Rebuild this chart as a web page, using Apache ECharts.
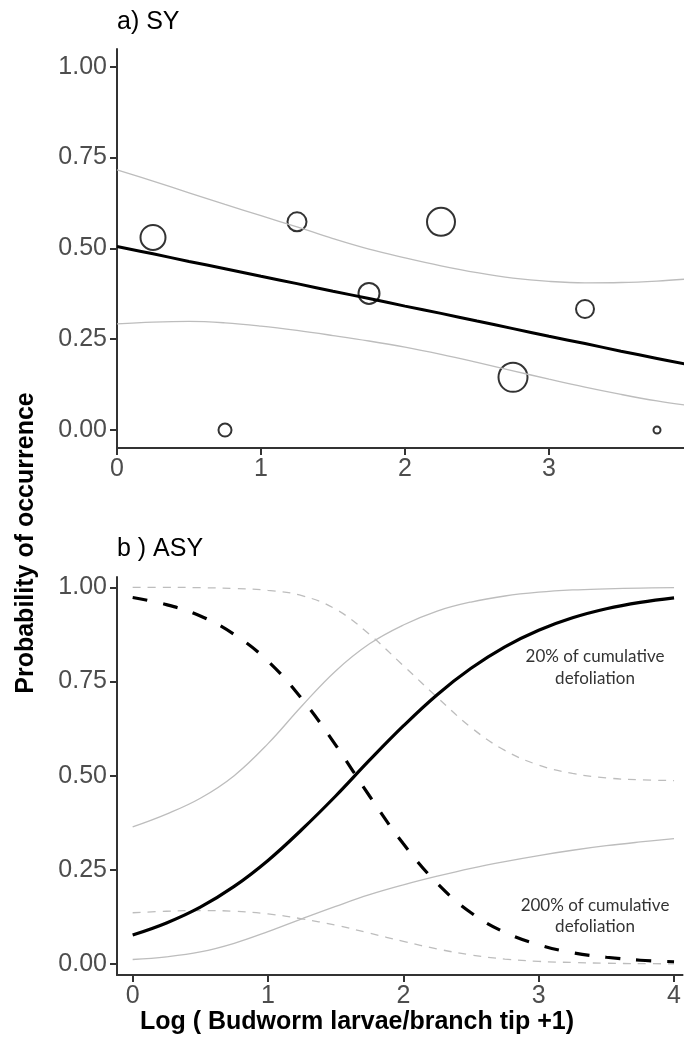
<!DOCTYPE html>
<html>
<head>
<meta charset="utf-8">
<script src="https://cdn.jsdelivr.net/npm/echarts@6/dist/echarts.min.js"></script>
<style>
  html, body { margin: 0; padding: 0; background: #fff; }
  #chart { width: 684px; height: 1040px; }
</style>
</head>
<body>
<div id="chart"></div>
<script>
// ---- panel a) SY ----
var obsX = [0.25, 0.75, 1.25, 1.75, 2.25, 2.75, 3.25, 3.75];
var obsY = [0.53, 0.0, 0.573, 0.376, 0.573, 0.145, 0.333, 0.0];
var obsSize = [25, 13, 19, 21, 28, 29, 18, 7];

var fitAX = [0, 0.25, 0.5, 0.75, 1, 1.25, 1.5, 1.75, 2, 2.25, 2.5, 2.75, 3, 3.25, 3.5, 3.75, 3.94];
var fitA = [0.505, 0.485, 0.464, 0.444, 0.423, 0.403, 0.382, 0.362, 0.341, 0.321, 0.30, 0.279, 0.258, 0.238, 0.217, 0.197, 0.182];
var fitAUpper = [0.716, 0.685, 0.653, 0.621, 0.59, 0.559, 0.527, 0.498, 0.474, 0.452, 0.433, 0.418, 0.409, 0.405, 0.406, 0.41, 0.415];
var fitALower = [0.292, 0.297, 0.299, 0.295, 0.286, 0.274, 0.26, 0.245, 0.228, 0.208, 0.186, 0.163, 0.14, 0.118, 0.098, 0.08, 0.069];

// ---- panel b) ASY ----
var fitBX = [0, 0.25, 0.5, 0.75, 1, 1.25, 1.5, 1.75, 2, 2.25, 2.5, 2.75, 3, 3.25, 3.5, 3.75, 4];
var def20 = [0.077, 0.109, 0.151, 0.206, 0.275, 0.357, 0.446, 0.541, 0.632, 0.715, 0.785, 0.842, 0.886, 0.919, 0.943, 0.960, 0.972];
var def20Upper = [0.364, 0.398, 0.44, 0.50, 0.585, 0.685, 0.778, 0.85, 0.9, 0.937, 0.961, 0.977, 0.987, 0.993, 0.996, 0.998, 0.999];
var def20Lower = [0.012, 0.019, 0.032, 0.055, 0.086, 0.12, 0.153, 0.184, 0.21, 0.233, 0.254, 0.272, 0.288, 0.302, 0.314, 0.324, 0.333];
var def200 = [0.973, 0.954, 0.924, 0.875, 0.804, 0.704, 0.581, 0.446, 0.319, 0.214, 0.136, 0.084, 0.051, 0.030, 0.018, 0.010, 0.006];
var def200Upper = [1.0, 1.0, 0.999, 0.997, 0.992, 0.978, 0.942, 0.875, 0.792, 0.708, 0.628, 0.567, 0.528, 0.506, 0.494, 0.489, 0.487];
var def200Lower = [0.136, 0.14, 0.142, 0.14, 0.133, 0.12, 0.103, 0.082, 0.06, 0.04, 0.024, 0.013, 0.007, 0.004, 0.002, 0.001, 0.0005];

var xTicksA = [0, 1, 2, 3];
var xTicksB = [0, 1, 2, 3, 4];
var yTicks = [0, 0.25, 0.5, 0.75, 1];

var FONT = '"Liberation Sans", Arial, sans-serif';

function pairs(xs, ys) {
  return xs.map(function (x, i) { return [x, ys[i]]; });
}

function xAxisCfg(grid, min, max, ticks) {
  return {
    type: 'value', gridIndex: grid, min: min, max: max,
    splitLine: { show: false },
    axisLine: { onZero: false, lineStyle: { color: '#333', width: 2 } },
    axisTick: { customValues: ticks, length: 7, lineStyle: { color: '#333', width: 2 } },
    axisLabel: { customValues: ticks, margin: 9, color: '#4d4d4d', fontSize: 25, fontFamily: FONT }
  };
}

function yAxisCfg(grid, min, max) {
  return {
    type: 'value', gridIndex: grid, min: min, max: max,
    splitLine: { show: false },
    axisLine: { show: true, onZero: false, lineStyle: { color: '#333', width: 2 } },
    axisTick: { show: true, customValues: yTicks, length: 7, lineStyle: { color: '#333', width: 2 } },
    axisLabel: {
      customValues: yTicks, margin: 10, color: '#4d4d4d', fontSize: 25, fontFamily: FONT,
      formatter: function (v) { return v.toFixed(2); }
    }
  };
}

function line(xi, data, color, width, type) {
  return {
    type: 'line', xAxisIndex: xi, yAxisIndex: xi, data: data,
    smooth: 0.4, symbol: 'none', silent: true,
    lineStyle: { color: color, width: width, type: type || 'solid', cap: 'butt' }
  };
}

var chart = echarts.init(document.getElementById('chart'), null, { renderer: 'canvas' });

var option = {
  animation: false,
  backgroundColor: '#fff',
  grid: [
    { left: 117, right: 0, top: 49, height: 399 },
    { left: 117, right: 0, top: 577, height: 398 }
  ],
  xAxis: [
    xAxisCfg(0, 0, 3.9375, xTicksA),
    xAxisCfg(1, -0.1157, 4.063, xTicksB)
  ],
  yAxis: [
    yAxisCfg(0, -0.0495, 1.0487),
    yAxisCfg(1, -0.0292, 1.0274)
  ],
  series: [
    line(0, pairs(fitAX, fitAUpper), '#bdbdbd', 1.3),
    line(0, pairs(fitAX, fitALower), '#bdbdbd', 1.3),
    line(0, pairs(fitAX, fitA), '#000', 3),
    {
      type: 'scatter', xAxisIndex: 0, yAxisIndex: 0,
      data: obsX.map(function (x, i) { return [x, obsY[i], obsSize[i]]; }),
      symbol: 'circle',
      symbolSize: function (d) { return d[2]; },
      itemStyle: { color: 'rgba(0,0,0,0)', borderColor: '#000', borderWidth: 2 },
      silent: true
    },
    line(1, pairs(fitBX, def200Upper), '#bdbdbd', 1.3, [8, 7]),
    line(1, pairs(fitBX, def200Lower), '#bdbdbd', 1.3, [8, 7]),
    line(1, pairs(fitBX, def20Upper), '#bdbdbd', 1.3),
    line(1, pairs(fitBX, def20Lower), '#bdbdbd', 1.3),
    line(1, pairs(fitBX, def200), '#000', 3.2, [15, 16]),
    line(1, pairs(fitBX, def20), '#000', 3.2)
  ],
  graphic: [
    { type: 'text', left: 117, top: 10, style: { text: 'a) SY', fill: '#000', font: '25px ' + FONT } },
    { type: 'text', left: 117, top: 537, style: { text: 'b ) ASY', fill: '#000', font: '25px ' + FONT } },
    {
      type: 'text', x: 26, y: 543, rotation: Math.PI / 2,
      style: { text: 'Probability of occurrence', fill: '#000', font: 'bold 25px ' + FONT, align: 'center', verticalAlign: 'middle' }
    },
    {
      type: 'text', x: 357, y: 1022,
      style: { text: 'Log ( Budworm larvae/branch tip +1)', fill: '#000', font: 'bold 25px ' + FONT, align: 'center', verticalAlign: 'middle' }
    },
    {
      type: 'text', x: 595, y: 668,
      style: { text: '20% of cumulative\ndefoliation', fill: '#333', font: '17px Lato, sans-serif', align: 'center', verticalAlign: 'middle', lineHeight: 22 }
    },
    {
      type: 'text', x: 595, y: 916,
      style: { text: '200% of cumulative\ndefoliation', fill: '#333', font: '17px Lato, sans-serif', align: 'center', verticalAlign: 'middle', lineHeight: 21 }
    }
  ]
};

chart.setOption(option);
</script>
</body>
</html>
